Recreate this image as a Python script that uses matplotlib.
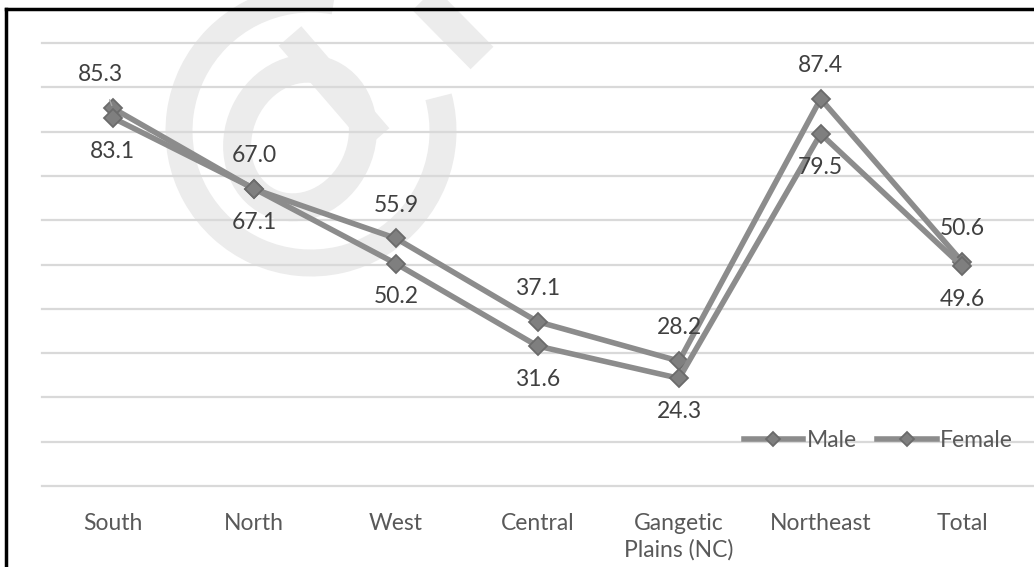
import matplotlib.pyplot as plt
from matplotlib.patches import Arc, Ellipse
from matplotlib.lines import Line2D

plt.rcParams['font.family'] = ['Lato', 'DejaVu Sans']

regions = ["South", "North", "West", "Central", "Gangetic\nPlains (NC)", "Northeast", "Total"]
male = [85.3, 67.0, 55.9, 37.1, 28.2, 87.4, 50.6]
female = [83.1, 67.1, 50.2, 31.6, 24.3, 79.5, 49.6]

W, H = 1034, 567
fig = plt.figure(figsize=(W / 100, H / 100), dpi=100)

# faint "@" mark behind the chart, drawn in pixel space
bg = fig.add_axes([0, 0, 1, 1])
bg.set_xlim(0, W)
bg.set_ylim(H, 0)
bg.axis('off')
wm = '#ececec'
px = 0.72
bg.add_patch(Arc((311, 131), 264, 264, theta1=-15, theta2=280, lw=27 * px, color=wm))
bg.add_patch(Ellipse((300, 138), 122, 142, angle=25, fill=False, lw=28 * px, color=wm))
bg.plot([290, 378], [36, 138], color=wm, lw=30 * px, solid_capstyle='butt')
bg.plot([415, 482], [-10, 58], color=wm, lw=32 * px, solid_capstyle='butt')

ax = fig.add_axes([42 / W, 81 / H, 991 / W, 443 / H])
ax.patch.set_alpha(0)
x = list(range(len(regions)))

line_kw = dict(color='#8c8c8c', lw=4, marker='D', ms=9, mfc='#7f7f7f',
               mec='#6b6b6b', mew=1.3, zorder=3)
ax.plot(x, male, label='Male', **line_kw)
ax.plot(x, female, label='Female', **line_kw)

for xi, v in zip(x, male):
    if xi == 0:
        # first label sits up and left, tied back with a short leader line
        ax.annotate(f"{v:.1f}", (xi, v), xytext=(-9, 24), textcoords='offset points',
                    ha='center', va='center', fontsize=16.5, color='#404040',
                    arrowprops=dict(arrowstyle='-', color='#a6a6a6', lw=1,
                                    shrinkA=9, shrinkB=2))
    else:
        ax.annotate(f"{v:.1f}", (xi, v), xytext=(0, 24), textcoords='offset points',
                    ha='center', va='center', fontsize=16.5, color='#404040')
for xi, v in zip(x, female):
    ax.annotate(f"{v:.1f}", (xi, v), xytext=(0, -24), textcoords='offset points',
                ha='center', va='center', fontsize=16.5, color='#404040')

ax.set_xlim(-0.5, 6.5)
ax.set_ylim(0, 100)
ax.set_yticks(range(0, 101, 10))
ax.yaxis.grid(True, color='#d9d9d9', lw=1.6)
for gl in ax.get_ygridlines():
    gl.set_clip_on(False)
ax.set_xticks(x)
ax.set_xticklabels(regions, fontsize=16.5, color='#595959', linespacing=1.3)
ax.tick_params(left=False, labelleft=False, bottom=False, pad=16)
for s in ax.spines.values():
    s.set_visible(False)

leg = ax.legend(loc='center', bbox_to_anchor=(0.844, 0.102), ncol=2, frameon=False,
                handlelength=2.6, handletextpad=0.15, columnspacing=0.9,
                fontsize=16.5, borderaxespad=0, markerscale=0.75)
for t in leg.get_texts():
    t.set_color('#595959')

# outer frame (left and top edges)
fig.add_artist(Line2D([6 / W, 6 / W], [0, 1 - 9 / H], transform=fig.transFigure,
                      color='black', lw=2.5))
fig.add_artist(Line2D([6 / W, 1], [1 - 9 / H, 1 - 9 / H], transform=fig.transFigure,
                      color='black', lw=2.5))

fig.savefig('out.png', dpi=100)
